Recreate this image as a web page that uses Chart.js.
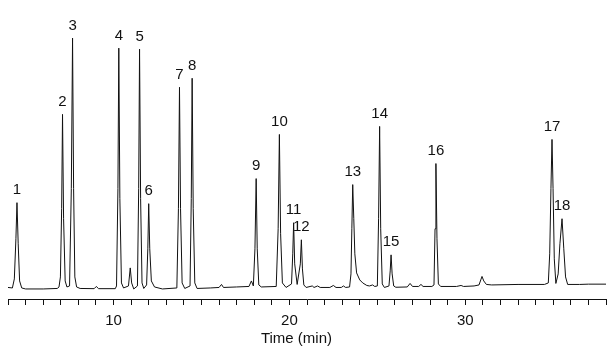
<!DOCTYPE html>
<html>
<head>
<meta charset="utf-8">
<script src="https://cdn.jsdelivr.net/npm/chart.js@4"></script>
<style>
  html, body { margin: 0; padding: 0; background: #fff; }
  #wrap { width: 613px; height: 353px; }
</style>
</head>
<body>
<div id="wrap"><canvas id="chromChart"></canvas></div>
<script>
// detector trace (time in min, signal in arbitrary units)
const traceTime = [
  4.0, 4.25, 4.36, 4.45, 4.51, 4.58, 4.66, 4.78, 5.0, 6.0,
  6.8, 6.9, 6.98, 7.05, 7.10, 7.16, 7.25, 7.35, 7.5, 7.6,
  7.67, 7.73, 7.8, 7.9, 8.1, 8.9, 9.02, 9.15, 10.1, 10.17,
  10.25, 10.3, 10.36, 10.45, 10.57, 10.85, 10.95, 11.03, 11.15, 11.36,
  11.43, 11.48, 11.54, 11.62, 11.72, 11.88, 11.95, 12.0, 12.06, 12.15,
  12.33, 12.78, 13.6, 13.69, 13.75, 13.81, 13.9, 14.05, 14.35, 14.42,
  14.47, 14.53, 14.62, 14.75, 15.5, 16.0, 16.14, 16.25, 17.0, 17.7,
  17.84, 17.95, 18.04, 18.11, 18.17, 18.26, 18.4, 19.25, 19.36, 19.43,
  19.5, 19.6, 19.81, 20.12, 20.19, 20.24, 20.3, 20.44, 20.62, 20.68,
  20.74, 20.82, 20.95, 21.3, 21.4, 21.6, 21.75, 22.3, 22.5, 22.65,
  22.95, 23.07, 23.2, 23.42, 23.5, 23.55, 23.6, 23.66, 23.72, 23.82,
  24.0, 24.17, 24.4, 24.55, 24.73, 24.85, 25.0, 25.07, 25.13, 25.19,
  25.28, 25.4, 25.66, 25.73, 25.78, 25.84, 25.93, 26.05, 26.7, 26.86,
  27.0, 27.35, 27.48, 27.6, 28.1, 28.22, 28.28, 28.33, 28.39, 28.47,
  28.6, 29.5, 29.76, 29.9, 30.5, 30.78, 30.88, 30.95, 31.05, 31.2,
  31.5, 33.0, 34.5, 34.72, 34.8, 34.87, 34.93, 34.99, 35.06, 35.15,
  35.28, 35.38, 35.5, 35.6, 35.7, 35.82, 36.5, 37.0, 38.0
];
const traceSignal = [
  1.5, 1, 10, 50, 86, 45, 8, 1, 0, 0,
  0.5, 2, 12, 80, 174, 70, 8, 2, 3, 100,
  250, 100, 12, 2, 0.5, 0.3, 2.5, 0.3, 0.3, 3,
  100, 240, 90, 6, 1, 3, 21, 6, 0, 3,
  100, 239, 90, 6, 0.5, 4, 40, 85, 40, 8,
  2, 0, 1, 80, 201, 80, 6, 0.5, 3, 90,
  210, 80, 6, 0.5, 1, 1.5, 4.5, 1.5, 2, 2.5,
  8, 3, 40, 110, 40, 4, 2, 2.5, 60, 154,
  55, 6, 1.5, 5, 35, 66, 25, 4.5, 25, 49,
  20, 4, 1.5, 3, 1.5, 3, 1.5, 1.5, 3.5, 1.5,
  1.5, 3, 1.5, 2, 15, 60, 104, 70, 35, 16,
  9, 6, 3.5, 3, 4, 2.5, 3, 70, 162, 60,
  5, 1.5, 3, 18, 34, 15, 3, 1.7, 2, 5.5,
  2.5, 2.5, 4.5, 2.5, 2.5, 4, 60, 125, 50, 5,
  2.5, 2.5, 3.5, 2.5, 3, 4, 9, 12.5, 8, 4.5,
  4, 4.5, 4.5, 6, 35, 100, 149, 100, 30, 5.5,
  15, 45, 70, 40, 12, 4.5, 4.5, 4.8, 4.8
];

// numbered peaks
const peakNames = ["1", "2", "3", "4", "5", "6", "7", "8", "9", "10", "11", "12", "13", "14", "15", "16", "17", "18"];
const peakTimes = [4.51, 7.10, 7.67, 10.3, 11.48, 12.0, 13.75, 14.47, 18.11, 19.43, 20.24, 20.68, 23.6, 25.13, 25.78, 28.33, 34.93, 35.5];
const peakHeights = [86, 174, 250, 240, 239, 85, 201, 210, 110, 154, 66, 49, 104, 162, 34, 125, 149, 70];

const axisTitle = "Time (min)";

const ink = "#111";
const fontFamily = '"Liberation Sans", Arial, sans-serif';
Chart.defaults.font.family = fontFamily;
Chart.defaults.color = ink;

const tracePoints = traceTime.map((t, i) => ({ x: t, y: traceSignal[i] }));

// peak numbers above each apex, and the axis title (sits a bit left of centre in the original)
const peakLabelPlugin = {
  id: "peakLabels",
  afterDatasetsDraw(chart) {
    const ctx = chart.ctx;
    const xs = chart.scales.x;
    const ys = chart.scales.y;
    ctx.save();
    ctx.font = "15px " + fontFamily;
    ctx.fillStyle = ink;
    ctx.textAlign = "center";
    ctx.textBaseline = "middle";
    peakNames.forEach((name, i) => {
      const px = xs.getPixelForValue(peakTimes[i]);
      const py = ys.getPixelForValue(peakHeights[i]) - 12.5;
      ctx.fillText(name, px, py);
    });
    ctx.fillText(axisTitle, xs.getPixelForValue(20.4), chart.chartArea.bottom + 40);
    ctx.restore();
  },
};

new Chart(document.getElementById("chromChart"), {
  type: "line",
  data: {
    datasets: [
      {
        data: tracePoints,
        borderColor: ink,
        borderWidth: 1,
        pointRadius: 0,
        tension: 0,
        fill: false,
      },
    ],
  },
  options: {
    responsive: true,
    maintainAspectRatio: false,
    animation: false,
    layout: { padding: { top: 10, left: 8, right: 6, bottom: 16 } },
    plugins: {
      legend: { display: false },
      tooltip: { enabled: false },
    },
    scales: {
      x: {
        type: "linear",
        min: 4,
        max: 38,
        grid: {
          drawOnChartArea: false,
          drawTicks: true,
          tickLength: 6,
          color: ink,
        },
        border: { display: true, color: ink, width: 1 },
        ticks: {
          stepSize: 1,
          autoSkip: false,
          maxRotation: 0,
          maxTicksLimit: 100,
          padding: 7,
          font: { size: 15 },
          color: ink,
          callback: (v) => (v % 10 === 0 ? String(v) : ""),
        },
        title: { display: false },
      },
      y: {
        display: false,
        min: -10,
        max: 278,
      },
    },
  },
  plugins: [peakLabelPlugin],
});
</script>
</body>
</html>
